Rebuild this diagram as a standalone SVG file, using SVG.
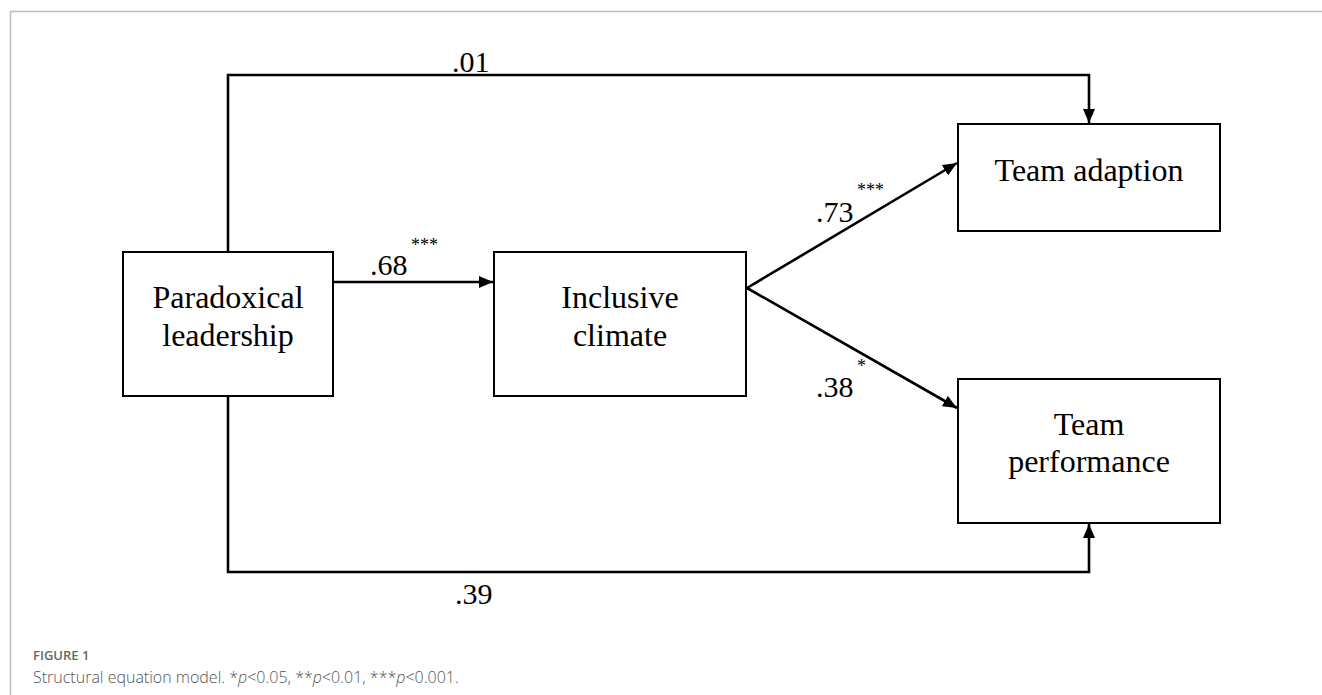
<svg xmlns="http://www.w3.org/2000/svg" width="1322" height="695" viewBox="0 0 1322 695">
<style>
.box{fill:#fff;stroke:#000;stroke-width:2}
.lbl{font-family:"Liberation Serif","Times New Roman",serif;font-size:32px;fill:#000;text-anchor:middle}
.num{font-family:"Liberation Serif","Times New Roman",serif;font-size:30px;fill:#000}
.star{font-family:"Liberation Serif","Times New Roman",serif;font-size:18px;fill:#000}
.con{fill:none;stroke:#000;stroke-width:2.6}
.cap1{font-family:"Open Sans","Noto Sans",sans-serif;font-size:13px;font-weight:600;fill:#666}
.cap2{font-family:"Open Sans","Noto Sans",sans-serif;font-size:16px;font-weight:300;fill:#555}
</style>
<defs>
<marker id="ah" viewBox="0 0 14 12" refX="14" refY="6" markerWidth="14" markerHeight="12" markerUnits="userSpaceOnUse" orient="auto">
<path d="M0,0 L14,6 L0,12 Z" fill="#000"/>
</marker>
</defs>
<rect width="1322" height="695" fill="#fff"/>
<path d="M10.5,695 V11.5 H1322" fill="none" stroke="#bdbdbd" stroke-width="1.5"/>
<g id="connectors">
<path class="con" d="M228,252 V75 H1089 V123" marker-end="url(#ah)"/>
<path class="con" d="M228,396 V572 H1089 V524" marker-end="url(#ah)"/>
<path class="con" d="M333,282 H493" marker-end="url(#ah)"/>
<path class="con" d="M747,288 L957,163" marker-end="url(#ah)"/>
<path class="con" d="M747,288 L957,408" marker-end="url(#ah)"/>
<text class="num" x="452" y="72">.01</text>
<text class="num" x="455" y="604">.39</text>
<text class="num" x="370" y="275">.68</text>
<text class="star" x="411" y="251">***</text>
<text class="num" x="816" y="222">.73</text>
<text class="star" x="857" y="196">***</text>
<text class="num" x="816" y="397">.38</text>
<text class="star" x="857" y="372">*</text>
</g>
<g id="paradoxical">
<rect class="box" x="123" y="252" width="210" height="144"/>
<text class="lbl" x="228" y="308">Paradoxical</text>
<text class="lbl" x="228" y="346">leadership</text>
</g>
<g id="inclusive">
<rect class="box" x="494" y="252" width="252" height="144"/>
<text class="lbl" x="620" y="308">Inclusive</text>
<text class="lbl" x="620" y="346">climate</text>
</g>
<g id="adaption">
<rect class="box" x="958" y="124" width="262" height="107"/>
<text class="lbl" x="1089" y="181">Team adaption</text>
</g>
<g id="performance">
<rect class="box" x="958" y="379" width="262" height="144"/>
<text class="lbl" x="1089" y="435">Team</text>
<text class="lbl" x="1089" y="472">performance</text>
</g>
<g id="caption">
<text class="cap1" x="33" y="660">FIGURE 1</text>
<text class="cap2" x="33" y="683">Structural equation model. *<tspan font-style="italic">p</tspan>&lt;0.05, **<tspan font-style="italic">p</tspan>&lt;0.01, ***<tspan font-style="italic">p</tspan>&lt;0.001.</text>
</g>
</svg>
